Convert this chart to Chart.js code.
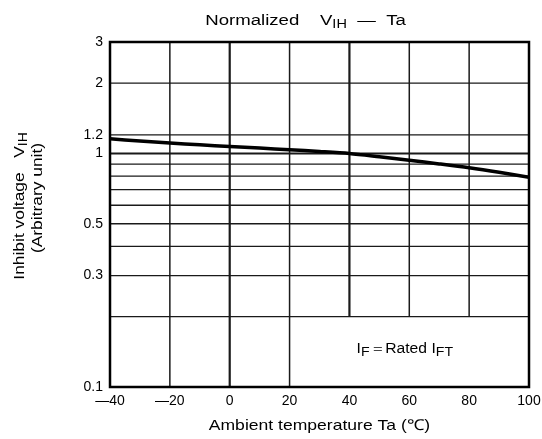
<!DOCTYPE html>
<html><head><meta charset="utf-8">
<script src="https://cdn.jsdelivr.net/npm/chart.js@4"></script>
<style>html,body{margin:0;padding:0;background:#fff}#wrap{width:542px;height:439px}</style>
</head><body><div id="wrap"><canvas id="c" width="542" height="439"></canvas></div>
<script>
const temps = [-40, -30, -20, -10, 0, 10, 20, 30, 40, 50, 60, 70, 80, 90, 100];
const vihNorm = [1.155, 1.131, 1.108, 1.089, 1.07, 1.054, 1.037, 1.02, 1.0, 0.968, 0.935, 0.902, 0.868, 0.83, 0.79];
const yTickValues = [0.1, 0.2, 0.3, 0.4, 0.5, 0.6, 0.7, 0.8, 0.9, 1, 1.2, 2, 3];
const yTickLabels = {0.1: '0.1', 0.3: '0.3', 0.5: '0.5', 1: '1', 1.2: '1.2', 2: '2', 3: '3'};
const xGridFull = [-20, 0, 20];
const xGridPartial = [40, 60, 80];
const xThick = [0, 40];

const FONT = '"Liberation Sans", Arial, sans-serif';

function richText(ctx, parts, cx, y, size, hs, subScale, subShift) {
  subScale = subScale || 0.8; subShift = subShift || 0.22;
  ctx.save();
  ctx.translate(cx, y);
  ctx.scale(hs, 1);
  let w = 0;
  parts.forEach(p => {
    ctx.font = (p.sub ? size * subScale : size) + 'px ' + FONT;
    p.w = ctx.measureText(p.t).width; w += p.w;
  });
  let x = -w / 2;
  ctx.textAlign = 'left'; ctx.textBaseline = 'alphabetic';
  parts.forEach(p => {
    ctx.font = (p.sub ? size * subScale : size) + 'px ' + FONT;
    ctx.fillText(p.t, x, p.sub ? size * subShift : 0);
    x += p.w;
  });
  ctx.restore();
}

const custom = {
  id: 'custom',
  beforeDatasetsDraw(chart) {
    const {ctx, chartArea: a, scales: {x, y}} = chart;
    ctx.save();
    ctx.strokeStyle = '#1a1a1a';
    yTickValues.forEach(v => {
      const py = y.getPixelForValue(v);
      ctx.lineWidth = v === 1 ? 2 : 1.3;
      ctx.beginPath(); ctx.moveTo(a.left, py); ctx.lineTo(a.right, py); ctx.stroke();
    });
    xGridFull.concat(xGridPartial).forEach(v => {
      const px = x.getPixelForValue(v);
      ctx.lineWidth = xThick.includes(v) ? 2.2 : 1.5;
      const yb = xGridPartial.includes(v) ? y.getPixelForValue(0.2) : a.bottom;
      ctx.beginPath(); ctx.moveTo(px, a.top); ctx.lineTo(px, yb); ctx.stroke();
    });
    ctx.lineWidth = 2.5;
    ctx.strokeStyle = '#000';
    ctx.strokeRect(a.left, a.top, a.right - a.left, a.bottom - a.top);
    ctx.restore();
  },
  afterDraw(chart) {
    const {ctx, chartArea: a, scales: {x, y}} = chart;
    ctx.save();
    ctx.fillStyle = '#000';
    richText(ctx, [{t: 'Normalized    V'}, {t: 'IH', sub: true}, {t: '  \u2014  Ta'}], 305.5, 25, 15.5, 1.2, 0.78, 0.2);
    richText(ctx, [{t: 'Ambient temperature Ta (\u2103)'}], (a.left + a.right) / 2, 429.5, 15, 1.17);
    richText(ctx, [{t: 'I'}, {t: 'F', sub: true}, {t: '\uFF1DRated I'}, {t: 'FT', sub: true}],
      x.getPixelForValue(60) - 4.5, y.getPixelForValue(0.145) + 4, 14, 1.12, 0.9, 0.2);
    ctx.save();
    ctx.translate(24, 206); ctx.rotate(-Math.PI / 2);
    richText(ctx, [{t: 'Inhibit voltage   V'}, {t: 'IH', sub: true}], 0, 0, 15, 1.16, 0.8, 0.22);
    ctx.restore();
    ctx.save();
    ctx.translate(42, 198); ctx.rotate(-Math.PI / 2);
    richText(ctx, [{t: '(Arbitrary unit)'}], 0, 0, 15, 1.16);
    ctx.restore();
    ctx.restore();
  }
};

new Chart(document.getElementById('c'), {
  type: 'line',
  data: {
    labels: temps,
    datasets: [{
      data: temps.map((t, i) => ({x: t, y: vihNorm[i]})),
      borderColor: '#000', borderWidth: 3.5, pointRadius: 0, tension: 0.3, fill: false
    }]
  },
  options: {
    responsive: false, animation: false,
    layout: {padding: {left: 0, right: 13, top: 42, bottom: 0}},
    plugins: {legend: {display: false}, tooltip: {enabled: false}},
    scales: {
      x: {
        type: 'linear', min: -40, max: 100,
        grid: {display: false, drawTicks: false}, border: {display: false},
        ticks: {stepSize: 20, padding: 6, color: '#000', font: {size: 14, family: FONT},
          maxRotation: 0, autoSkip: false,
          callback: v => v < 0 ? '\u2014' + Math.abs(v) : String(v)},
        afterFit: s => { s.height = 52; s.paddingLeft = 0; s.paddingRight = 0; }
      },
      y: {
        type: 'logarithmic', min: 0.1, max: 3,
        grid: {display: false, drawTicks: false}, border: {display: false},
        afterBuildTicks: s => { s.ticks = yTickValues.map(v => ({value: v})); },
        ticks: {padding: 7, color: '#000', font: {size: 14, family: FONT}, autoSkip: false,
          callback: v => yTickLabels[v] !== undefined ? yTickLabels[v] : ''},
        afterFit: s => { s.width = 110; s.paddingTop = 0; s.paddingBottom = 0; }
      }
    }
  },
  plugins: [custom]
});
</script></body></html>
